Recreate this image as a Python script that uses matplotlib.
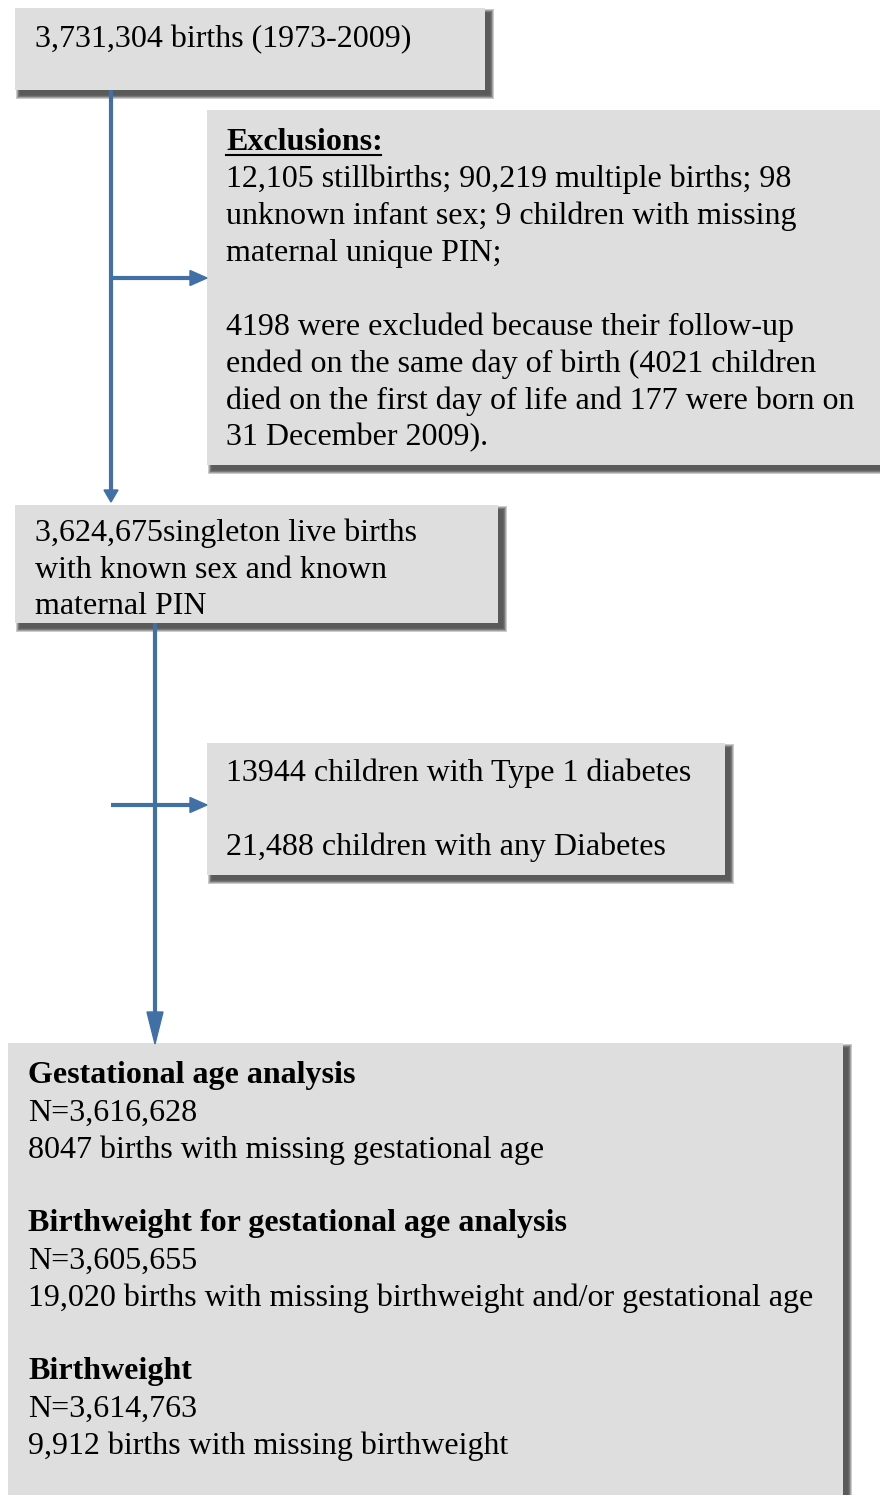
import matplotlib.pyplot as plt
from matplotlib.patches import Rectangle, FancyArrow

# text of each box (one entry per line, '' = blank line)
box1_lines = ["3,731,304 births (1973-2009)"]
box2_title = "Exclusions:"
box2_lines = ["12,105 stillbirths; 90,219 multiple births; 98",
              "unknown infant sex; 9 children with missing",
              "maternal unique PIN;",
              "",
              "4198 were excluded because their follow-up",
              "ended on the same day of birth (4021 children",
              "died on the first day of life and 177 were born on",
              "31 December 2009)."]
box3_lines = ["3,624,675singleton live births",
              "with known sex and known",
              "maternal PIN"]
box4_lines = ["13944 children with Type 1 diabetes",
              "",
              "21,488 children with any Diabetes"]
box5_lines = [("Gestational age analysis", True),
              ("N=3,616,628", False),
              ("8047 births with missing gestational age", False),
              ("", False),
              ("Birthweight for gestational age analysis", True),
              ("N=3,605,655", False),
              ("19,020 births with missing birthweight and/or gestational age", False),
              ("", False),
              ("Birthweight", True),
              ("N=3,614,763", False),
              ("9,912 births with missing birthweight", False)]

W, H = 880, 1495
fig = plt.figure(figsize=(W / 100, H / 100), dpi=100)
ax = fig.add_axes([0, 0, 1, 1])
ax.set_xlim(0, W)
ax.set_ylim(H, 0)
ax.axis('off')

FILL = '#dedede'
BLUE = '#4070a6'
FS = 23
LH = 37
FONT = 'Liberation Serif'


def box(x0, y0, x1, y1):
    # soft drop shadow, built from stacked translucent rectangles
    for i in range(10):
        g = 10 - i
        ax.add_patch(Rectangle((x0 + 5 - g * 0.4, y0 + 5 - g * 0.4),
                               x1 - x0 + g * 0.8, y1 - y0 + g * 0.8,
                               facecolor='#202020', edgecolor='none', alpha=0.12, zorder=1))
    ax.add_patch(Rectangle((x0, y0), x1 - x0, y1 - y0, facecolor=FILL, edgecolor='none', zorder=2))


def lines(x, y, items):
    for k, t in enumerate(items):
        if isinstance(t, tuple):
            t, b = t
        else:
            b = False
        if t:
            ax.text(x, y + k * LH, t, fontsize=FS, family=FONT, va='center', ha='left',
                    fontweight='bold' if b else 'normal', color='black', zorder=5)


box(15, 8, 485, 90)
box(207, 110, 885, 465)
box(15, 505, 498, 623)
box(207, 743, 725, 875)
box(8, 1043, 843, 1510)

lines(35, 40, box1_lines)
ax.text(226, 142, box2_title, fontsize=FS, family=FONT, va='center', ha='left',
        fontweight='bold', zorder=5)
ax.plot([226, 381], [155, 155], color='black', lw=1.5, zorder=5)
lines(226, 179, box2_lines)
lines(35, 533, box3_lines)
lines(226, 773, box4_lines)
lines(28, 1076, box5_lines)

# connectors
ax.plot([111, 111], [90, 492], color=BLUE, lw=3, zorder=3, solid_capstyle='butt')
ax.add_patch(FancyArrow(111, 490, 0, 12, width=0, head_width=14, head_length=12,
                        length_includes_head=True, color=BLUE, zorder=3))
ax.plot([111, 192], [278, 278], color=BLUE, lw=3, zorder=3, solid_capstyle='butt')
ax.add_patch(FancyArrow(190, 278, 17, 0, width=0, head_width=15, head_length=17,
                        length_includes_head=True, color=BLUE, zorder=3))

ax.plot([155, 155], [623, 1015], color=BLUE, lw=3, zorder=3, solid_capstyle='butt')
ax.add_patch(FancyArrow(155, 1012, 0, 32, width=0, head_width=16, head_length=32,
                        length_includes_head=True, color=BLUE, zorder=3))
ax.plot([111, 192], [805, 805], color=BLUE, lw=3, zorder=3, solid_capstyle='butt')
ax.add_patch(FancyArrow(190, 805, 17, 0, width=0, head_width=15, head_length=17,
                        length_includes_head=True, color=BLUE, zorder=3))

fig.savefig('out.png', dpi=100, facecolor='white')
